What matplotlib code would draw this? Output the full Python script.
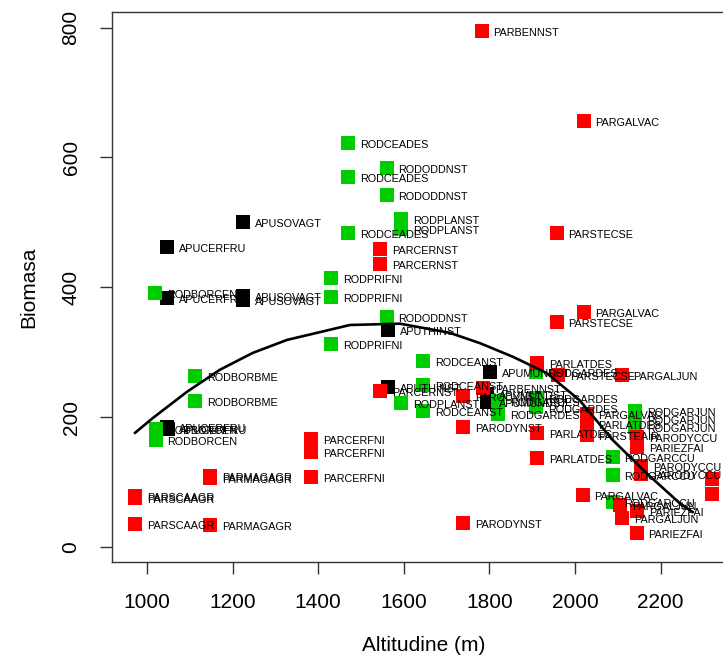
import matplotlib
matplotlib.use('Agg')
import matplotlib.pyplot as plt

# APU (black)
apu_names = ['APUSOVAGT', 'APUCERFRU', 'APUCERFRU', 'APUSOVAGT', 'APUSOVAGT', 'APUCERFRU',
             'APUCERFRU', 'APUTHINST', 'APUTHINST', 'APUMUNDST', 'APUMUNDST', 'APUMUNDST']
apu_alt = [1225, 1047, 1047, 1225, 1225, 1047, 1050, 1563, 1563, 1801, 1794, 1794]
apu_bio = [500, 462, 384, 387, 381, 185, 182, 334, 246, 270, 236, 224]

# ROD (green)
rod_names = ['RODCEADES', 'RODCEADES', 'RODCEADES', 'RODODDNST', 'RODODDNST', 'RODODDNST',
             'RODPLANST', 'RODPLANST', 'RODPRIFNI', 'RODPRIFNI', 'RODPRIFNI', 'RODCEANST',
             'RODCEANST', 'RODCEANST', 'RODPLANST', 'RODBORBME', 'RODBORBME', 'RODBORCEN',
             'RODBORCEN', 'RODBORCEN', 'RODGARDES', 'RODGARDES', 'RODGARDES', 'RODGARDES',
             'RODGARDES', 'RODGARJUN', 'RODGARJUN', 'RODGARJUN', 'RODGARCCU', 'RODGARCCU',
             'RODGARCCU']
rod_alt = [1470, 1470, 1470, 1560, 1560, 1560, 1593, 1593, 1430, 1430, 1430, 1645,
           1645, 1645, 1593, 1112, 1112, 1019, 1020, 1020, 1820, 1820, 1910, 1910,
           1910, 2140, 2140, 2140, 2088, 2088, 2088]
rod_bio = [622, 570, 484, 584, 542, 354, 505, 490, 415, 385, 313, 287,
           250, 210, 222, 263, 225, 391, 182, 165, 225, 205, 270, 230,
           215, 210, 198, 185, 139, 111, 69]

# PAR (red)
par_names = ['PARBENNST', 'PARGALVAC', 'PARSTECSE', 'PARCERNST', 'PARCERNST', 'PARGALVAC',
             'PARSTECSE', 'PARCERFNI', 'PARCERFNI', 'PARCERFNI', 'PARMAGAGR', 'PARMAGAGR',
             'PARMAGAGR', 'PARSCAAGR', 'PARSCAAGR', 'PARSCAAGR', 'PARCERNST', 'PARODYNST',
             'PARODYNST', 'PARODYNST', 'PARBENNST', 'PARLATDES', 'PARLATDES', 'PARLATDES',
             'PARSTECSE', 'PARGALJUN', 'PARGALVAC', 'PARLATDES', 'PARSTEAIR', 'PARODYCCU',
             'PARIEZFAI', 'PARODYCCU', 'PARODYCCU', 'PARODYCCU', 'PARODYCCU', 'PARGALVAC',
             'PARGALJUN', 'PARGALJUN', 'PARIEZFAI', 'PARIEZFAI']
par_alt = [1782, 2020, 1957, 1544, 1544, 2020, 1957, 1383, 1383, 1383, 1147, 1147,
           1147, 972, 972, 972, 1544, 1738, 1738, 1738, 1785, 1911, 1911, 1911,
           1960, 2109, 2027, 2027, 2027, 2145, 2145, 2155, 2155, 2321, 2321, 2018,
           2105, 2110, 2145, 2144]
par_bio = [795, 656, 484, 459, 436, 362, 347, 166, 146, 108, 110, 106,
           34, 79, 75, 35, 240, 232, 185, 37, 245, 283, 176, 137,
           265, 265, 205, 190, 172, 169, 154, 125, 112, 105, 82, 80,
           65, 45, 55, 22]

# fitted curve
fit_alt = [972, 1014, 1093, 1170, 1247, 1327, 1404, 1474, 1591, 1707, 1778, 1855,
           1934, 2011, 2088, 2167, 2244, 2275]
fit_bio = [176, 199, 239, 273, 299, 319, 331, 342, 344, 330, 314, 293,
           268, 226, 165, 114, 68, 54]


def main():
    plt.rcParams['font.family'] = ['Liberation Sans', 'DejaVu Sans']
    fig = plt.figure(figsize=(7.23, 6.62), dpi=100)
    ax = fig.add_axes([112 / 723, 1 - 562 / 662, (735 - 112) / 723, (562 - 12) / 662])

    groups = [
        (apu_names, apu_alt, apu_bio, '#000000'),
        (rod_names, rod_alt, rod_bio, '#00CD00'),
        (par_names, par_alt, par_bio, '#FF0000'),
    ]
    for names, xs, ys, col in groups:
        ax.plot(xs, ys, 's', color=col, markersize=9.4, markeredgewidth=0, zorder=2)
    # etichette a destra dei punti
    for names, xs, ys, col in groups:
        for n, x, y in zip(names, xs, ys):
            ax.annotate(n, (x, y), xytext=(8.5, -1.5), textcoords='offset points',
                        ha='left', va='center', fontsize=7.8, color='black', zorder=3)

    ax.plot(fit_alt, fit_bio, color='black', linewidth=1.9, zorder=4)

    ax.set_xlim(918, 2374)
    ax.set_ylim(-23, 824)
    ax.set_xticks([1000, 1200, 1400, 1600, 1800, 2000, 2200])
    ax.set_yticks([0, 200, 400, 600, 800])
    ax.tick_params(axis='both', direction='out', length=8.6, width=1, colors='#333333',
                   labelcolor='black', labelsize=15, pad=14)
    for lab in ax.get_yticklabels():
        lab.set_rotation(90)
        lab.set_va('center')
    for s in ax.spines.values():
        s.set_color('#333333')
        s.set_linewidth(1)

    ax.set_xlabel('Altitudine (m)', fontsize=15, labelpad=17)
    ax.set_ylabel('Biomasa', fontsize=15, labelpad=17)

    fig.savefig('out.png', dpi=100)


if __name__ == '__main__':
    main()
